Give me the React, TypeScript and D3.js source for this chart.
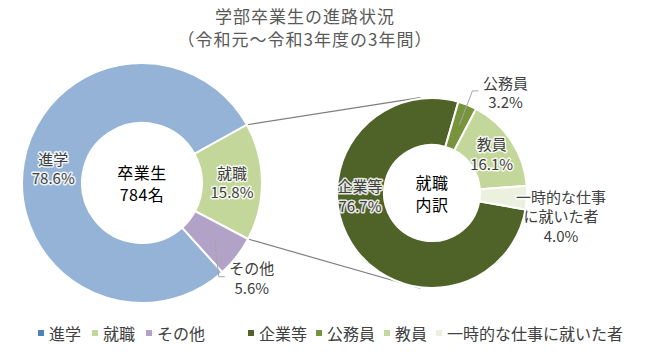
import React from 'react';
import * as d3 from 'd3';

// ---------- data ----------
const titleLines = ['学部卒業生の進路状況', '（令和元～令和3年度の3年間）'];

const mainCategories = ['進学', '就職', 'その他'];
const mainValues = [78.6, 15.8, 5.6];
const mainColors = ['#95B3D7', '#C4D79B', '#B3A2C7'];
const mainLegendColors = ['#4F81BD', '#C4D79B', '#B3A2C7'];
const mainCenterLines = ['卒業生', '784名'];

const subCategories = ['企業等', '公務員', '教員', '一時的な仕事に就いた者'];
const subLabelLines = [['企業等'], ['公務員'], ['教員'], ['一時的な仕事', 'に就いた者']];
const subValues = [76.7, 3.2, 16.1, 4.0];
const subColors = ['#4F6228', '#77933C', '#C4D79B', '#EBF1DE'];
const subCenterLines = ['就職', '内訳'];

// ---------- layout ----------
const W = 653;
const H = 355;
const FONT = '"Noto Sans CJK JP", "Noto Sans", sans-serif';
const deg = Math.PI / 180;

const main = { cx: 142, cy: 183, r0: 60, r1: 120, start: 138 };
const sub = { cx: 432, cy: 193, r0: 48, r1: 95, start: 100 };

type LabelPos = { angle?: number; r?: number; leader?: boolean };
const mainLabelLayout: LabelPos[] = [{}, {}, { angle: 130.8, r: 145, leader: true }];
const subLabelLayout: LabelPos[] = [
  { angle: 268, r: 72 },
  { angle: 36, r: 125, leader: true },
  {},
  { angle: 100, r: 131 },
];

const polar = (cx: number, cy: number, a: number, r: number): [number, number] => [
  cx + r * Math.sin(a),
  cy - r * Math.cos(a),
];

function MultiLine({ x, y, lines, size, fill, lineH, halo, spacing }: any) {
  const n = lines.length;
  const style: any = halo
    ? { paintOrder: 'stroke', stroke: 'rgba(255,255,255,0.85)', strokeWidth: 3, strokeLinejoin: 'round' }
    : {};
  if (spacing) style.letterSpacing = spacing + 'px';
  return (
    <g>
      {lines.map((l: string, i: number) => (
        <text
          key={i}
          x={x}
          y={y + (i - (n - 1) / 2) * lineH}
          dominantBaseline="central"
          fontFamily={FONT}
          fontSize={size}
          fill={fill}
          textAnchor="middle"
          style={style}
        >
          {l}
        </text>
      ))}
    </g>
  );
}

function Donut({ cfg, values, colors, labelLines, layout, centerLines }: any) {
  const pie = d3
    .pie<number>()
    .sort(null)
    .startAngle(cfg.start * deg)
    .endAngle(cfg.start * deg + 2 * Math.PI);
  const arcs = pie(values);
  const arc = d3.arc<d3.PieArcDatum<number>>().innerRadius(cfg.r0).outerRadius(cfg.r1);
  const mid = (cfg.r0 + cfg.r1) / 2;
  return (
    <g>
      <g transform={`translate(${cfg.cx},${cfg.cy})`}>
        {arcs.map((a, i) => (
          <path key={i} d={arc(a) || ''} fill={colors[i]} stroke="#fff" strokeWidth={2} />
        ))}
      </g>
      {arcs.map((a, i) => {
        const L: LabelPos = layout[i];
        const midA = (a.startAngle + a.endAngle) / 2;
        const ang = L.angle !== undefined ? L.angle * deg : midA;
        const rr = L.r !== undefined ? L.r : mid;
        const [lx, ly] = polar(cfg.cx, cfg.cy, ang, rr);
        const lines = [...labelLines[i], `${values[i].toFixed(1)}%`];
        let leader = null;
        if (L.leader) {
          const [sx, sy] = polar(cfg.cx, cfg.cy, midA, mid + 2);
          leader = (
            <polyline
              points={`${sx},${sy} ${lx - 33},${ly - 1} ${lx - 27},${ly - 1}`}
              fill="none"
              stroke="#A6A6A6"
              strokeWidth={1}
            />
          );
        }
        return (
          <g key={'l' + i}>
            {leader}
            <MultiLine x={lx} y={ly} lines={lines} size={15} fill="#404040" lineH={19.5} halo />
          </g>
        );
      })}
      <MultiLine x={cfg.cx} y={cfg.cy} lines={centerLines} size={16} fill="#000" lineH={22} spacing={0.5} />
    </g>
  );
}

function Legend({ x0, y, cats, colors, gap }: any) {
  const size = 16;
  let x = x0;
  const items = cats.map((c: string, i: number) => {
    const mx = x;
    const tx = mx + 11;
    const w = [...c].length * size;
    x = tx + w + gap;
    return (
      <g key={i}>
        <rect x={mx} y={y - 3} width={6} height={6} fill={colors[i]} />
        <text x={tx} y={y} dominantBaseline="central" fontFamily={FONT} fontSize={size} fill="#404040">
          {c}
        </text>
      </g>
    );
  });
  return <g>{items}</g>;
}

export default function App() {
  // connector lines between 就職 slice and sub donut
  const pie = d3
    .pie<number>()
    .sort(null)
    .startAngle(main.start * deg)
    .endAngle(main.start * deg + 2 * Math.PI);
  const job = pie(mainValues)[1];
  const [a1x, a1y] = polar(main.cx, main.cy, job.startAngle, main.r1);
  const [a2x, a2y] = polar(main.cx, main.cy, job.endAngle, main.r1);
  const [b1x, b1y] = polar(sub.cx, sub.cy, -7 * deg, sub.r1 + 1);
  const [b2x, b2y] = polar(sub.cx, sub.cy, 187 * deg, sub.r1 + 1);

  return (
    <svg
      width={W}
      height={H}
      viewBox={`0 0 ${W} ${H}`}
      style={{ position: 'absolute', left: 0, top: 0, background: '#fff' }}
    >
      <rect width={W} height={H} fill="#fff" />
      <MultiLine x={305} y={27} lines={titleLines} size={17} fill="#595959" lineH={23.5} spacing={1} />
      <line x1={a1x} y1={a1y} x2={b1x} y2={b1y} stroke="#7F7F7F" strokeWidth={1.2} />
      <line x1={a2x} y1={a2y} x2={b2x} y2={b2y} stroke="#7F7F7F" strokeWidth={1.2} />
      <Donut
        cfg={main}
        values={mainValues}
        colors={mainColors}
        labelLines={mainCategories.map((c) => [c])}
        layout={mainLabelLayout}
        centerLines={mainCenterLines}
      />
      <Donut
        cfg={sub}
        values={subValues}
        colors={subColors}
        labelLines={subLabelLines}
        layout={subLabelLayout}
        centerLines={subCenterLines}
      />
      <Legend x0={38} y={333} cats={mainCategories} colors={mainLegendColors} gap={11} />
      <Legend x0={248} y={333} cats={subCategories} colors={subColors} gap={9} />
    </svg>
  );
}
